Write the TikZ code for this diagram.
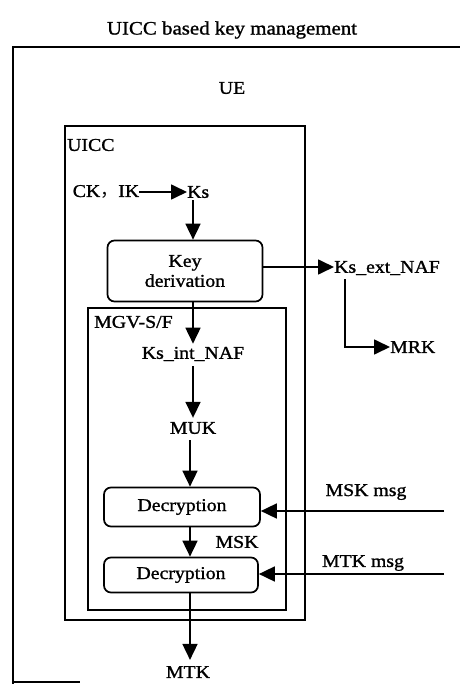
\documentclass[tikz,border=0pt]{standalone}
\usepackage{fontspec}
\setmainfont{Liberation Serif}[FakeStretch=1.1, FakeBold=1.2]
\newfontfamily\cjk{Noto Sans CJK SC}
\usetikzlibrary{positioning, arrows.meta}

\tikzset{
	lbl/.style={inner sep=0pt, font=\fontsize{18}{20}\selectfont},
	rbox/.style={draw, line width=1.7pt, rounded corners=7pt, inner sep=0pt, font=\fontsize{18}{20}\selectfont, align=center},
	arr/.style={line width=1.7pt, -{Triangle[length=16pt, width=15pt]}},
	frame/.style={line width=1.7pt}
}

\begin{document}
\begin{tikzpicture}[x=1pt, y=-1pt]
	\useasboundingbox (0, 0) rectangle (459, 684);

	\draw[frame] (470, 47) -- (13, 47) -- (13, 684);
	\draw[frame] (13, 682) -- (80, 682);
	\draw[frame] (65, 126) rectangle (305, 620);
	\draw[frame] (88, 308) rectangle (286, 610);

	\node[lbl, font=\fontsize{19}{21}\selectfont] (title) at (232, 30) {UICC based key management};
	\node[lbl] (ue) at (232, 88) {UE};
	\node[lbl, anchor=west] (uicc) at (67, 145) {UICC};
	\node[lbl, anchor=west] (mgv) at (94, 322) {MGV-S/F};

	\node[lbl] (ckik) at (106, 192) {CK{\cjk ，}IK};
	\node[lbl, anchor=west] (ks) at (187, 192) {Ks};
	\node[rbox, minimum width=155pt, minimum height=61pt] (keyder) at (185, 271) {Key\\derivation};
	\node[lbl, anchor=west] (ksext) at (334, 268) {Ks\_ext\_NAF};
	\node[lbl, anchor=west] (mrk) at (390, 347) {MRK};

	\node[lbl] (ksint) at (193, 354) {Ks\_int\_NAF};
	\node[lbl] (muk) at (193, 428) {MUK};
	\node[rbox, minimum width=156pt, minimum height=39pt] (dec1) at (182, 507) {Decryption};
	\node[lbl] (msk) at (237, 542) {MSK};
	\node[rbox, minimum width=154pt, minimum height=35pt] (dec2) at (181, 575) {Decryption};
	\node[lbl] (mtk) at (188, 672) {MTK};

	\node[lbl] (mskmsg) at (366, 492) {MSK msg};
	\node[lbl] (mtkmsg) at (363, 563) {MTK msg};
	\coordinate (mskin) at (444, 511);
	\coordinate (mtkin) at (444, 574);

	\coordinate (colA) at (193, 0);
	\coordinate (colB) at (190, 0);

	\draw[arr] (ckik.east) -- (ks.west);
	\draw[arr] ([yshift=-2pt]ks.south -| colA) -- (keyder.north -| colA);
	\draw[arr] ([yshift=4pt]keyder.east) -- ([yshift=4pt]keyder.east -| ksext.west);
	\draw[arr] ([xshift=11pt, yshift=-4pt]ksext.south west) |- (mrk.west);
	\draw[arr] (keyder.south -| colA) -- ([yshift=3pt]ksint.north -| colA);
	\draw[arr] ([yshift=-5pt]ksint.south -| colA) -- ([yshift=4pt]muk.north -| colA);
	\draw[arr] ([yshift=-6pt]muk.south -| colB) -- (dec1.north -| colB);
	\draw[arr] (dec1.south -| colB) -- (dec2.north -| colB);
	\draw[arr] (dec2.south -| colB) -- ([yshift=6pt]mtk.north -| colB);
	\draw[arr] (mskin) -- (mskin -| dec1.east);
	\draw[arr] (mtkin) -- (mtkin -| dec2.east);
\end{tikzpicture}
\end{document}
